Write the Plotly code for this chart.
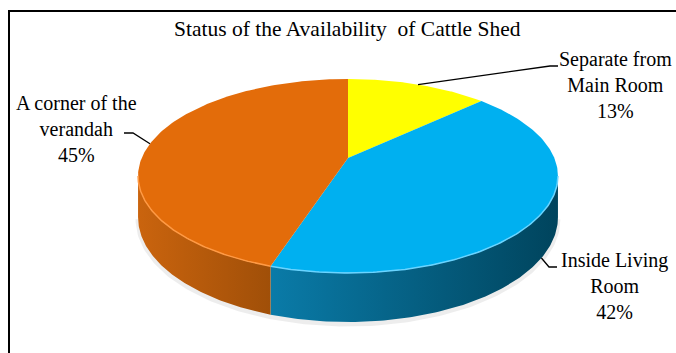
import numpy as np
import plotly.graph_objects as go

# ---- data ----
categories = ["Separate from<br>Main Room", "Inside Living<br>Room", "A corner of the<br>verandah"]
shares = [13, 42, 45]
pct_labels = ["13%", "42%", "45%"]
title_text = "Status of the Availability  of Cattle Shed"

# ---- styles ----
top_colors = ["#FFFF00", "#00B0F0", "#E36C0A"]
rim_colors = ["#FFFF66", "#6AD4FF", "#FF9A45"]
side_grad = [["#E0E000", "#C8C800"], ["#0A7BA8", "#00445D"], ["#CA640E", "#A04F08"]]
SERIF = "Liberation Serif, Times New Roman, Times, serif"

W, H = 676, 353
# perspective model of the disc (pixel space)
VX, VY = 348.0, 158.0
D = 5.39
KX = 1112.0
KY = 505.0
DEPTH = 215.0
label_pos = [(615, 85), (614, 286), (76, 129)]
label_drop = [0, 1, 0]


def proj(theta_deg, drop=0.0):
    th = np.radians(theta_deg)
    X, Z = np.sin(th), np.cos(th)
    den = D + Z
    return VX + KX * X / den, VY - KY * Z / den + drop * DEPTH / den


fig = go.Figure()

total = float(sum(shares))
bounds = np.concatenate([[0], np.cumsum(shares) / total * 360.0])
th_vis = np.degrees(np.arccos(-1.0 / D))

# soft shadow
ts = np.linspace(th_vis, 360 - th_vis, 200)
sx, sy = proj(ts, 1.0)
fig.add_trace(go.Scatter(x=sx, y=sy + 2, mode="lines",
                         line=dict(color="rgba(0,0,0,0.07)", width=5),
                         hoverinfo="skip", showlegend=False))

# side walls
for i in range(len(shares)):
    a0, a1 = max(bounds[i], th_vis), min(bounds[i + 1], 360 - th_vis)
    if a1 <= a0:
        continue
    t = np.linspace(a0, a1, 120)
    x1, y1 = proj(t, 0.0)
    x2, y2 = proj(t[::-1], 1.0)
    xs = np.concatenate([x1, x2, x1[:1]])
    ys = np.concatenate([y1, y2, y1[:1]])
    fig.add_trace(go.Scatter(
        x=xs, y=ys, mode="lines", fill="toself", line=dict(width=0),
        fillgradient=dict(type="horizontal",
                          colorscale=[[0, side_grad[i][0]], [1, side_grad[i][1]]],
                          start=float(xs.min()), stop=float(xs.max())),
        hoverinfo="skip", showlegend=False))

# top faces
for i in range(len(shares)):
    t = np.linspace(bounds[i], bounds[i + 1], 160)
    x, y = proj(t, 0.0)
    xs = np.concatenate([[VX], x, [VX]])
    ys = np.concatenate([[VY], y, [VY]])
    fig.add_trace(go.Scatter(x=xs, y=ys, mode="lines", fill="toself",
                             fillcolor=top_colors[i], line=dict(width=0),
                             hoverinfo="skip", showlegend=False))
    # rim highlight on the front edge
    a0, a1 = max(bounds[i], th_vis), min(bounds[i + 1], 360 - th_vis)
    if a1 > a0:
        t2 = np.linspace(a0, a1, 120)
        rx, ry = proj(t2, 0.0)
        fig.add_trace(go.Scatter(x=rx, y=ry, mode="lines",
                                 line=dict(color=rim_colors[i], width=1.5),
                                 hoverinfo="skip", showlegend=False))

# labels and leader lines
for i in range(len(shares)):
    mid = (bounds[i] + bounds[i + 1]) / 2
    px, py = proj(mid, label_drop[i])
    lx, ly = label_pos[i]
    if lx > VX:
        ex = lx - 57
        xs = [px, ex - 8, ex]
    else:
        ex = lx + 48
        xs = [px, ex + 9, ex]
    ey = ly - 19 if i in (0, 1) else ly + 4
    ys = [py, ey, ey]
    fig.add_trace(go.Scatter(x=xs, y=ys, mode="lines",
                             line=dict(color="black", width=1.3),
                             hoverinfo="skip", showlegend=False))
    fig.add_annotation(x=lx, y=ly, xref="x", yref="y",
                       text=categories[i] + "<br>" + pct_labels[i],
                       showarrow=False, align="center",
                       xanchor="center", yanchor="middle",
                       font=dict(family=SERIF, size=20, color="black"))

fig.add_annotation(x=347, y=29, xref="x", yref="y", text=title_text,
                   showarrow=False, xanchor="center", yanchor="middle",
                   font=dict(family=SERIF, size=21.5, color="black"))

# chart frame
fig.add_shape(type="rect", xref="x", yref="y", x0=9, y0=11, x1=W + 20, y1=H + 20,
              line=dict(color="black", width=2), layer="above")

fig.update_layout(
    width=W, height=H, margin=dict(l=0, r=0, t=0, b=0),
    paper_bgcolor="white", plot_bgcolor="white",
    xaxis=dict(range=[0, W], visible=False, fixedrange=True),
    yaxis=dict(range=[H, 0], visible=False, fixedrange=True),
    showlegend=False,
)

fig.write_html("out.html")
